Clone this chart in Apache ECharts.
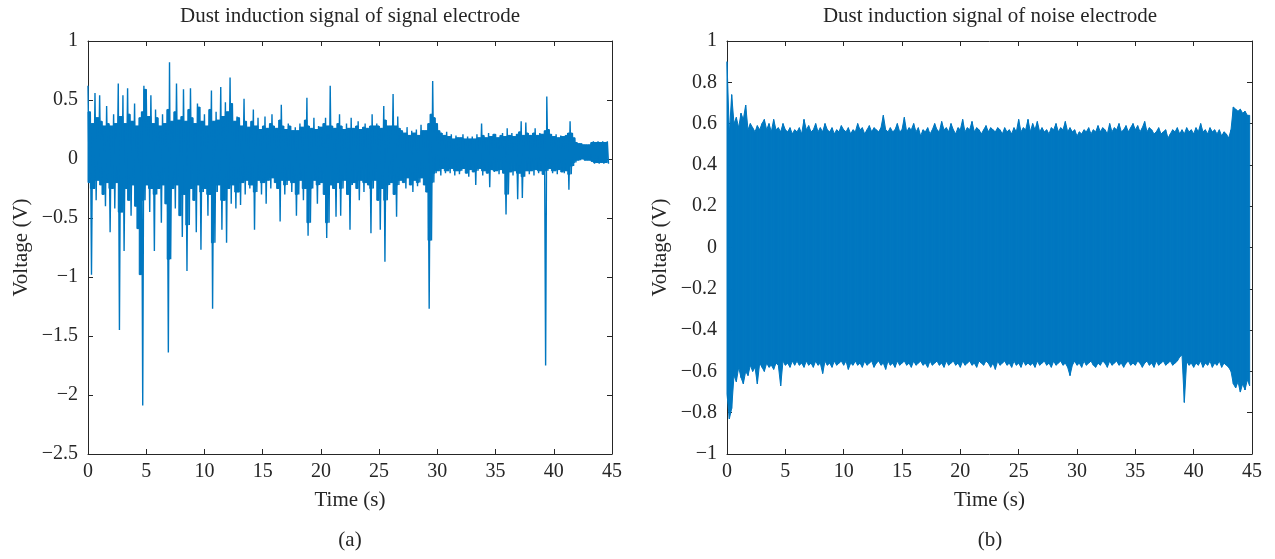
<!DOCTYPE html>
<html lang="en">
<head>
    <meta charset="UTF-8">
    <title>Dust induction signal</title>
    <script src="https://cdn.jsdelivr.net/npm/echarts@6/dist/echarts.min.js"></script>
    <style>
        html, body { margin: 0; padding: 0; background: #fff; }
        #chart { width: 1275px; height: 559px; }
    </style>
</head>
<body>
<div id="chart"></div>
<script>
    // sample step (s); each sample holds a peak (hi) followed by a trough (lo)
    var stepA = 0.2;
    var stepB = 0.2;

    // (a) signal electrode, t = 0 .. 44.6 s
    var hiA = [
        0.62, 0.40, 0.30, 0.56, 0.35,  0.54, 0.32, 0.28, 0.45, 0.30,
        0.28, 0.38, 0.30, 0.64, 0.36,  0.54, 0.30, 0.60, 0.38, 0.32,
        0.47, 0.28, 0.35, 0.40, 0.62,  0.59, 0.36, 0.54, 0.30, 0.42,
        0.35, 0.28, 0.38, 0.30, 0.42,  0.82, 0.32, 0.40, 0.64, 0.33,
        0.36, 0.59, 0.32, 0.42, 0.60,  0.35, 0.30, 0.47, 0.44, 0.32,
        0.38, 0.28, 0.42, 0.58, 0.32,  0.40, 0.33, 0.61, 0.36, 0.48,
        0.40, 0.69, 0.47, 0.32, 0.36,  0.35, 0.28, 0.51, 0.32, 0.27,
        0.32, 0.42, 0.28, 0.35, 0.25,  0.28, 0.36, 0.26, 0.30, 0.38,
        0.28, 0.26, 0.33, 0.46, 0.28,  0.25, 0.30, 0.28, 0.24, 0.27,
        0.24, 0.30, 0.27, 0.33, 0.52,  0.28, 0.26, 0.35, 0.25, 0.28,
        0.27, 0.30, 0.35, 0.28, 0.62,  0.28, 0.26, 0.30, 0.38, 0.28,
        0.25, 0.30, 0.26, 0.35, 0.26,  0.28, 0.32, 0.25, 0.27, 0.30,
        0.26, 0.28, 0.38, 0.28, 0.30,  0.28, 0.26, 0.45, 0.33, 0.28,
        0.28, 0.55, 0.28, 0.36, 0.26,  0.24, 0.22, 0.27, 0.20, 0.24,
        0.22, 0.25, 0.20, 0.29, 0.24,  0.24, 0.30, 0.38, 0.66, 0.35,
        0.30, 0.24, 0.22, 0.20, 0.23,  0.19, 0.21, 0.17, 0.20, 0.18,
        0.18, 0.21, 0.17, 0.19, 0.17,  0.19, 0.17, 0.21, 0.18, 0.30,
        0.20, 0.18, 0.22, 0.19, 0.21,  0.21, 0.18, 0.20, 0.22, 0.19,
        0.26, 0.20, 0.22, 0.19, 0.21,  0.23, 0.32, 0.20, 0.31, 0.22,
        0.20, 0.22, 0.26, 0.20, 0.22,  0.21, 0.24, 0.53, 0.25, 0.21,
        0.19, 0.21, 0.18, 0.20, 0.19,  0.20, 0.22, 0.32, 0.22, 0.18,
        0.14, 0.13, 0.13, 0.12, 0.12,  0.12, 0.14, 0.15, 0.14, 0.15,
        0.14, 0.15, 0.14, 0.15
    ];
    var loA = [
        -0.20, -0.98, -0.25, -0.35, -0.18,  -0.22, -0.30, -0.40, -0.20, -0.62,
        -0.25, -0.42, -0.20, -1.45, -0.45,  -0.78, -0.25, -0.35, -0.48, -0.22,
        -0.40, -0.59, -0.98, -2.09, -0.35,  -0.22, -0.45, -0.25, -0.78, -0.30,
        -0.25, -0.54, -0.22, -0.38, -1.64,  -0.85, -0.25, -0.42, -0.22, -0.48,
        -0.66, -0.30, -0.95, -0.56, -0.25,  -0.35, -0.62, -0.22, -0.77, -0.28,
        -0.25, -0.48, -0.30, -1.27, -0.71,  -0.28, -0.22, -0.60, -0.35, -0.71,
        -0.25, -0.38, -0.22, -0.42, -0.28,  -0.39, -0.20, -0.30, -0.18, -0.25,
        -0.22, -0.60, -0.28, -0.18, -0.30,  -0.20, -0.38, -0.18, -0.25, -0.16,
        -0.20, -0.25, -0.53, -0.18, -0.30,  -0.22, -0.18, -0.28, -0.20, -0.48,
        -0.30, -0.18, -0.35, -0.25, -0.65,  -0.54, -0.25, -0.18, -0.38, -0.22,
        -0.20, -0.30, -0.67, -0.54, -0.22,  -0.25, -0.49, -0.20, -0.48, -0.25,
        -0.18, -0.30, -0.60, -0.22, -0.20,  -0.25, -0.35, -0.18, -0.28, -0.20,
        -0.22, -0.63, -0.25, -0.18, -0.35,  -0.60, -0.25, -0.87, -0.35, -0.22,
        -0.20, -0.30, -0.49, -0.22, -0.18,  -0.20, -0.25, -0.16, -0.22, -0.28,
        -0.18, -0.23, -0.20, -0.16, -0.22,  -0.28, -1.27, -0.69, -0.20, -0.12,
        -0.10, -0.14, -0.08, -0.12, -0.10,  -0.12, -0.08, -0.14, -0.10, -0.13,
        -0.10, -0.08, -0.12, -0.15, -0.09,  -0.11, -0.22, -0.10, -0.08, -0.14,
        -0.10, -0.12, -0.24, -0.09, -0.11,  -0.10, -0.13, -0.09, -0.12, -0.47,
        -0.30, -0.11, -0.14, -0.10, -0.34,  -0.12, -0.33, -0.15, -0.10, -0.13,
        -0.10, -0.14, -0.09, -0.12, -0.10,  -0.13, -1.75, -0.10, -0.08, -0.12,
        -0.10, -0.13, -0.09, -0.11, -0.12,  -0.10, -0.26, -0.13, -0.06, -0.03,
        -0.01, -0.01, 0.00, -0.01, -0.01,  -0.01, -0.02, -0.04, -0.03, -0.04,
        -0.03, -0.04, -0.03, -0.04
    ];

    // (b) noise electrode, t = 0 .. 44.8 s
    var hiB = [
        0.90, 0.55, 0.74, 0.60, 0.63,  0.58, 0.65, 0.62, 0.69, 0.57,
        0.60, 0.58, 0.56, 0.59, 0.57,  0.60, 0.62, 0.57, 0.60, 0.56,
        0.62, 0.57, 0.58, 0.56, 0.60,  0.57, 0.56, 0.58, 0.55, 0.57,
        0.56, 0.58, 0.55, 0.62, 0.57,  0.59, 0.56, 0.57, 0.60, 0.56,
        0.58, 0.56, 0.60, 0.57, 0.56,  0.58, 0.55, 0.57, 0.56, 0.59,
        0.57, 0.56, 0.58, 0.55, 0.57,  0.56, 0.60, 0.57, 0.58, 0.55,
        0.57, 0.59, 0.56, 0.58, 0.57,  0.56, 0.58, 0.64, 0.57, 0.56,
        0.58, 0.56, 0.57, 0.60, 0.56,  0.57, 0.63, 0.56, 0.58, 0.57,
        0.60, 0.56, 0.58, 0.54, 0.57,  0.56, 0.58, 0.55, 0.57, 0.60,
        0.57, 0.56, 0.61, 0.57, 0.58,  0.56, 0.60, 0.57, 0.55, 0.58,
        0.57, 0.62, 0.56, 0.58, 0.57,  0.61, 0.56, 0.58, 0.57, 0.55,
        0.57, 0.59, 0.56, 0.58, 0.57,  0.56, 0.58, 0.57, 0.55, 0.58,
        0.56, 0.57, 0.55, 0.58, 0.56,  0.62, 0.56, 0.58, 0.57, 0.62,
        0.56, 0.60, 0.57, 0.61, 0.56,  0.58, 0.56, 0.57, 0.55, 0.58,
        0.57, 0.60, 0.56, 0.58, 0.57,  0.61, 0.56, 0.58, 0.56, 0.57,
        0.54, 0.56, 0.55, 0.57, 0.56,  0.58, 0.55, 0.57, 0.56, 0.59,
        0.56, 0.58, 0.57, 0.55, 0.60,  0.56, 0.58, 0.57, 0.60, 0.56,
        0.57, 0.59, 0.56, 0.58, 0.60,  0.57, 0.59, 0.56, 0.58, 0.61,
        0.56, 0.58, 0.57, 0.55, 0.56,  0.58, 0.55, 0.56, 0.57, 0.53,
        0.55, 0.57, 0.56, 0.58, 0.55,  0.57, 0.55, 0.58, 0.56, 0.57,
        0.55, 0.58, 0.56, 0.60, 0.56,  0.57, 0.55, 0.58, 0.56, 0.57,
        0.55, 0.57, 0.54, 0.56, 0.55,  0.53, 0.57, 0.68, 0.67, 0.66,
        0.67, 0.65, 0.66, 0.64, 0.64
    ];
    var loB = [
        -0.71, -0.83, -0.78, -0.62, -0.65,  -0.58, -0.63, -0.66, -0.60, -0.62,
        -0.57, -0.60, -0.58, -0.66, -0.56,  -0.58, -0.60, -0.56, -0.58, -0.57,
        -0.59, -0.56, -0.57, -0.67, -0.55,  -0.57, -0.56, -0.58, -0.55, -0.57,
        -0.55, -0.57, -0.56, -0.58, -0.55,  -0.57, -0.56, -0.58, -0.55, -0.57,
        -0.56, -0.61, -0.55, -0.57, -0.56,  -0.58, -0.55, -0.57, -0.56, -0.55,
        -0.57, -0.55, -0.59, -0.56, -0.57,  -0.55, -0.57, -0.56, -0.58, -0.55,
        -0.57, -0.56, -0.55, -0.58, -0.56,  -0.55, -0.57, -0.56, -0.59, -0.55,
        -0.57, -0.56, -0.58, -0.55, -0.57,  -0.56, -0.55, -0.57, -0.56, -0.58,
        -0.55, -0.57, -0.56, -0.55, -0.57,  -0.56, -0.58, -0.55, -0.57, -0.56,
        -0.55, -0.57, -0.56, -0.58, -0.55,  -0.57, -0.56, -0.55, -0.57, -0.56,
        -0.58, -0.55, -0.57, -0.56, -0.55,  -0.57, -0.56, -0.58, -0.55, -0.56,
        -0.57, -0.55, -0.56, -0.58, -0.56,  -0.59, -0.55, -0.57, -0.56, -0.55,
        -0.57, -0.56, -0.58, -0.55, -0.57,  -0.56, -0.58, -0.55, -0.57, -0.56,
        -0.57, -0.56, -0.58, -0.55, -0.57,  -0.56, -0.55, -0.57, -0.56, -0.58,
        -0.55, -0.57, -0.56, -0.55, -0.57,  -0.56, -0.58, -0.62, -0.57, -0.55,
        -0.57, -0.56, -0.58, -0.55, -0.57,  -0.56, -0.55, -0.57, -0.58, -0.56,
        -0.57, -0.55, -0.56, -0.58, -0.55,  -0.57, -0.56, -0.55, -0.57, -0.56,
        -0.58, -0.56, -0.55, -0.57, -0.56,  -0.57, -0.55, -0.56, -0.58, -0.56,
        -0.55, -0.57, -0.56, -0.58, -0.55,  -0.57, -0.56, -0.55, -0.57, -0.56,
        -0.55, -0.57, -0.56, -0.55, -0.53,  -0.52, -0.75, -0.55, -0.57, -0.56,
        -0.58, -0.56, -0.57, -0.55, -0.58,  -0.56, -0.57, -0.55, -0.58, -0.56,
        -0.57, -0.55, -0.58, -0.56, -0.57,  -0.58, -0.60, -0.66, -0.68, -0.65,
        -0.70, -0.66, -0.69, -0.64, -0.67
    ];

    var titles = ['Dust induction signal of signal electrode', 'Dust induction signal of noise electrode'];
    var panelTags = ['(a)', '(b)'];
    var xTicks = {min: 0, max: 45, interval: 5};
    var yTicksA = {min: -2.5, max: 1, interval: 0.5};
    var yTicksB = {min: -1, max: 1, interval: 0.2};

    var FONT = "'Liberation Serif', 'DejaVu Serif', serif";
    var INK = '#262626';
    var BLUE = '#0077C0';

    // peak / trough pairs -> one continuous trace
    function zigzag(hi, lo, step) {
        var out = [];
        for (var i = 0; i < hi.length; i++) {
            out.push([+(i * step).toFixed(3), hi[i]]);
            out.push([+(i * step + step / 2).toFixed(3), lo[i]]);
        }
        return out;
    }

    // [t, hi, lo] rows for the filled band
    function bandRows(hi, lo, step) {
        return hi.map(function (v, i) { return [+(i * step).toFixed(3), v, lo[i]]; });
    }

    var bandA = bandRows(hiA, loA, stepA);
    var bandB = bandRows(hiB, loB, stepB);

    // core=true: fill only what both neighbouring samples cover (spikes stay thin lines)
    function bandRenderer(rows, core) {
        return function (params, api) {
            var i = params.dataIndex;
            if (i >= rows.length - 1) return null;
            var a = rows[i], b = rows[i + 1];
            var pts;
            if (core) {
                var top = Math.min(a[1], b[1]), bot = Math.max(a[2], b[2]);
                pts = [api.coord([a[0], top]), api.coord([b[0], top]),
                       api.coord([b[0], bot]), api.coord([a[0], bot])];
            } else {
                pts = [api.coord([a[0], a[1]]), api.coord([b[0], b[1]]),
                       api.coord([b[0], b[2]]), api.coord([a[0], a[2]])];
            }
            return {
                type: 'polygon',
                shape: {points: pts},
                style: {fill: BLUE, stroke: BLUE, lineWidth: 1}
            };
        };
    }

    function fmt(v) {
        var s = String(+(+v).toFixed(2));
        return s.replace('-', '\u2212');
    }

    function makeAxis(type, pos, grid, ticks, withLabel, name, gap) {
        return {
            type: 'value',
            gridIndex: grid,
            position: pos,
            min: ticks.min,
            max: ticks.max,
            interval: ticks.interval,
            name: name || '',
            nameLocation: 'middle',
            nameGap: gap || 0,
            nameTextStyle: {fontFamily: FONT, fontSize: 21, color: INK},
            axisLine: {show: true, onZero: false, lineStyle: {color: INK, width: 1}},
            axisTick: {show: true, inside: true, length: 5, lineStyle: {color: INK}},
            axisLabel: {
                show: withLabel,
                margin: type === 'x' ? 8 : 10,
                fontFamily: FONT,
                fontSize: 20,
                color: INK,
                formatter: fmt
            },
            splitLine: {show: false}
        };
    }

    function textTitle(text, x, y) {
        return {
            text: text, left: x, top: y, textAlign: 'center', padding: 0,
            textStyle: {fontFamily: FONT, fontSize: 21, fontWeight: 'normal', color: INK}
        };
    }

    var myChart = echarts.init(document.getElementById('chart'));
    var option = {
        animation: false,
        backgroundColor: '#fff',
        title: [
            textTitle(titles[0], 350, 6),
            textTitle(titles[1], 990, 6),
            textTitle(panelTags[0], 350, 530),
            textTitle(panelTags[1], 990, 530)
        ],
        grid: [
            {left: 88, top: 41, width: 524, height: 413},
            {left: 727, top: 41, width: 525, height: 413}
        ],
        xAxis: [
            makeAxis('x', 'bottom', 0, xTicks, true, 'Time (s)', 36),
            makeAxis('x', 'bottom', 1, xTicks, true, 'Time (s)', 36),
            makeAxis('x', 'top', 0, xTicks, false),
            makeAxis('x', 'top', 1, xTicks, false)
        ],
        yAxis: [
            makeAxis('y', 'left', 0, yTicksA, true, 'Voltage (V)', 56),
            makeAxis('y', 'left', 1, yTicksB, true, 'Voltage (V)', 56),
            makeAxis('y', 'right', 0, yTicksA, false),
            makeAxis('y', 'right', 1, yTicksB, false)
        ],
        series: [
            {
                type: 'custom', xAxisIndex: 0, yAxisIndex: 0,
                data: bandA,
                encode: {x: 0, y: [1, 2]},
                renderItem: bandRenderer(bandA, true),
                silent: true
            },
            {
                type: 'line', xAxisIndex: 0, yAxisIndex: 0,
                data: zigzag(hiA, loA, stepA),
                showSymbol: false, symbol: 'none', silent: true,
                lineStyle: {color: BLUE, width: 1.4}
            },
            {
                type: 'custom', xAxisIndex: 1, yAxisIndex: 1,
                data: bandB,
                encode: {x: 0, y: [1, 2]},
                renderItem: bandRenderer(bandB, false),
                silent: true
            }
        ]
    };
    myChart.setOption(option);
</script>
</body>
</html>
